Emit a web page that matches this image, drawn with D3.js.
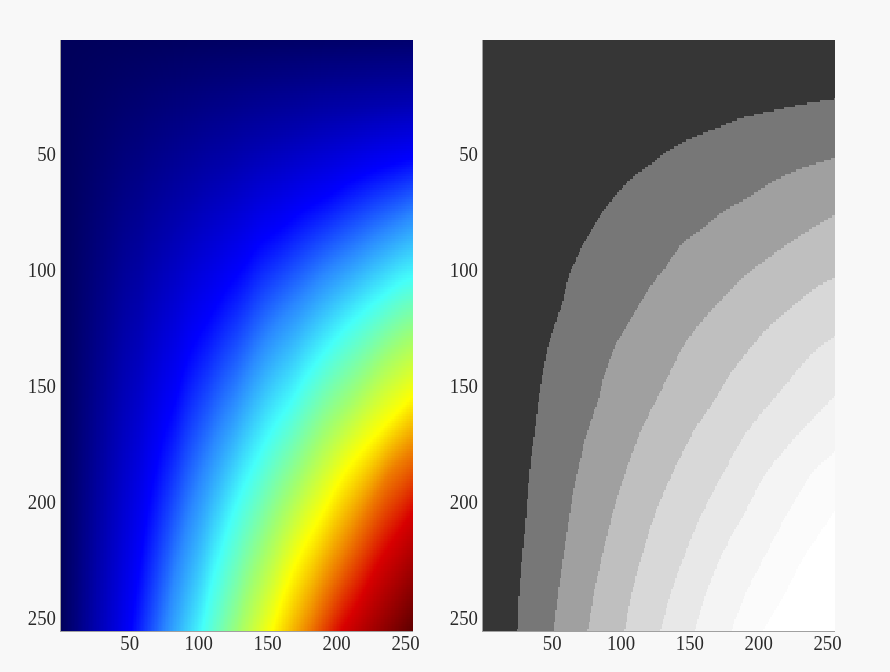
<!DOCTYPE html>
<html><head><meta charset="utf-8">
<script src="https://d3js.org/d3.v7.min.js"></script>
<style>
html,body{margin:0;padding:0;background:#f8f8f8;width:890px;height:672px;overflow:hidden}
canvas,svg{position:absolute;left:0;top:0}
text{font-family:"Liberation Serif",serif;font-size:21px;fill:#2a2a2a}
</style></head><body>
<canvas id="c" width="890" height="672"></canvas>
<svg id="s" width="890" height="672"></svg>
<script>
// Contour tracks: column index (X) and row index (Y) of each band edge.
const level1X=[26,27,31.3,34.9,38.6,41.5,45.8,48.7,52.3,58,64,68.8,76,80.9,88,96.6,107.5,119.8,134,151,172.7,192,211,230.7,256];
const level1Y=[256,241.6,212.6,186.6,169.3,155,140,131.7,125,115.2,101.5,95,86.3,81.2,74.7,68.2,61,55.5,49,43.4,38.2,33.8,31.2,28.6,26];
const level2X=[52.3,55.2,60.3,66,71,77,84.5,88.1,96.6,107.5,122,132.8,146,160.6,177.5,194.4,211.3,233,256];
const level2Y=[256,241.6,220,198,183.6,169.3,156.3,147.7,133.3,122,107.7,99.3,88.5,82,74,68.3,61.8,56,51.6];
const level3X=[77,82,89,96.8,105,116,126.8,143.7,154.6,176.4,192,215,232,256];
const level3Y=[256,238.6,220,201.8,186.6,169.3,156.4,136.1,126,111.6,102.2,92,84.9,76.3];
const level4X=[103.8,109,117,127,138.6,154.6,169.1,177.6,192,206.6,221,234.4,247.6,256];
const level4Y=[256,240,222.6,204,188,169.3,156.4,147.7,136.1,126,118.1,111.6,105.8,103.5];
const level5X=[130,136.5,146,158,172.7,193.7,211.4,223.5,235.6,247.6,256];
const level5Y=[256,241.6,225.6,208,191,169.3,156.4,147.7,139,132.5,129];
const level6X=[154.6,163,175,189.4,206.8,233,256];
const level6Y=[256,240,222.6,207,188,169.3,155];
const level7X=[181.4,192,206.8,223.5,240,256];
const level7Y=[256,240,222.6,204,188,179];
const level8X=[205,217.7,233,256];
const level8Y=[256,243,225.6,205];
const topRowLevels=[0,0.25];      // level at the top-left and top-right corners
const cornerLevel=10;             // level at the bottom-right corner
const xTicks=[50,100,150,200,250];
const yTicks=[50,100,150,200,250];
const jetLevels=[0,2,3,4,5,6,7,8,10];
const jetColors=["#00005a","#0000ff","#2a88ff","#45fffa","#a0ff70","#ffff00","#ee7c00","#d80000","#600000"];
const bandEdges=[1,2,3,4,5,6,7,8];
const bandGrays=["#363636","#777777","#a0a0a0","#bfbfbf","#d8d8d8","#e8e8e8","#f4f4f4","#fbfbfb","#ffffff"];

// smooth monotone curve through the read track points
function track(xs,ys){
  const n=xs.length,h=[],s=[],m=[];
  for(let i=0;i<n-1;i++){h[i]=xs[i+1]-xs[i];s[i]=(ys[i+1]-ys[i])/h[i];}
  m[0]=s[0];m[n-1]=s[n-2];
  for(let i=1;i<n-1;i++) m[i]=s[i-1]*s[i]<=0?0:2*s[i-1]*s[i]/(s[i-1]+s[i]);
  return v=>{
    const i=Math.min(n-2,Math.max(0,d3.bisectRight(xs,v)-1)),t=(v-xs[i])/h[i];
    const t2=t*t,t3=t2*t;
    return (2*t3-3*t2+1)*ys[i]+(t3-2*t2+t)*h[i]*m[i]+(-2*t3+3*t2)*ys[i+1]+(t3-t2)*h[i]*m[i+1];
  };
}
const xTracks=[level1X,level2X,level3X,level4X,level5X,level6X,level7X,level8X];
const yTracks=[level1Y,level2Y,level3Y,level4Y,level5Y,level6Y,level7Y,level8Y];
const tracks=xTracks.map((xs,i)=>({level:i+1,start:xs[0],y:track(xs,yTracks[i])}));
const bottomRow=d3.scaleLinear([1,...xTracks.map(a=>a[0]),256],[0,...bandEdges,cornerLevel]);
const topRow=d3.scaleLinear([1,256],topRowLevels);

const jet=d3.scaleLinear(jetLevels,jetColors).clamp(true);
const gray=d3.scaleThreshold(bandEdges,bandGrays);
const cols=d3.range(1,257), rows=d3.range(1,257);
const grid=cols.map(col=>{
  const ks=[[1,topRow(col)]];
  tracks.filter(t=>col>=t.start).forEach(t=>{const y=t.y(col); if(y>1.01&&y<255.9) ks.push([y,t.level]);});
  ks.push([256,bottomRow(col)]);
  const s=d3.scaleLinear(ks.map(d=>d[0]),ks.map(d=>d[1]));
  return rows.map(r=>s(r));
});

const panels=[{l:60,r:413,color:jet,axis:60},{l:482.5,r:835,color:gray,axis:482}];
const top_=40,bottom_=631;
const ctx=document.getElementById('c').getContext('2d');
const svg=d3.select('#s');
const y=d3.scaleLinear([0.5,256.5],[top_,bottom_]);
const yLabelBaseline=d3.scaleLinear([50,250],[161,625]);
const fit=sel=>sel.attr('textLength',d=>String(d).length*9.4).attr('lengthAdjust','spacingAndGlyphs');
panels.forEach(p=>{
  const x=d3.scaleLinear([0.5,256.5],[p.l,p.r]);
  const L=p.axis;
  cols.forEach((c,i)=>{
    const x0=Math.round(x(c-.5)),x1=Math.round(x(c+.5));
    rows.forEach((r,j)=>{
      const y0=Math.round(y(r-.5)),y1=Math.round(y(r+.5));
      ctx.fillStyle=p.color(grid[i][j]);
      ctx.fillRect(x0,y0,x1-x0,y1-y0);
    });
  });
  const ax=svg.append('g').attr('transform',`translate(0,${bottom_})`)
    .call(d3.axisBottom(x).tickValues(xTicks).tickSize(0).tickPadding(0).tickFormat(d3.format('d')));
  ax.selectAll('text').attr('dy','0').attr('dx','1').attr('y',18.5).call(fit);
  ax.select('.domain').attr('stroke','#a0a0a0').attr('d',`M${L},0.5H${Math.round(p.r)}`);
  const ay=svg.append('g').attr('transform',`translate(${L},0)`)
    .call(d3.axisLeft(y).tickValues(yTicks).tickSize(0).tickPadding(0).tickFormat(d3.format('d')));
  ay.selectAll('.tick').attr('transform','translate(0,0)');
  ay.selectAll('text').attr('x',-4).attr('dy','0').attr('y',d=>yLabelBaseline(d)).call(fit);
  ay.select('.domain').attr('stroke','#a0a0a0').attr('d',`M0.5,${top_}V${bottom_}`);
});
</script></body></html>
